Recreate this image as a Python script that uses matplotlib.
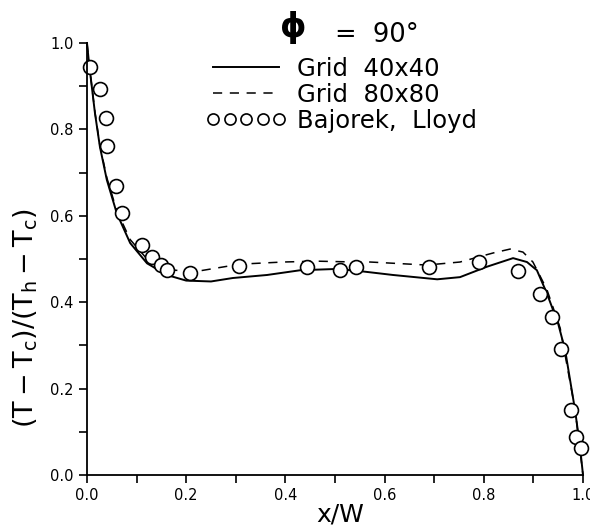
import matplotlib
matplotlib.use('Agg')
import matplotlib.pyplot as plt
from matplotlib.ticker import MultipleLocator, FormatStrFormatter

# Grid 40x40 (solid)
x_40 = [0.0, 0.004, 0.016, 0.026, 0.040, 0.060, 0.087, 0.121, 0.161, 0.200, 0.250,
        0.294, 0.363, 0.430, 0.504, 0.550, 0.617, 0.706, 0.752, 0.806, 0.859, 0.887,
        0.907, 0.927, 0.950, 0.964, 0.984, 0.994, 1.0]
y_40 = [1.0, 0.954, 0.838, 0.760, 0.683, 0.606, 0.537, 0.490, 0.463, 0.450, 0.448,
        0.456, 0.463, 0.474, 0.477, 0.472, 0.463, 0.453, 0.458, 0.482, 0.502, 0.493,
        0.474, 0.421, 0.350, 0.289, 0.150, 0.065, 0.0]

# Grid 80x80 (dashed)
x_80 = [0.0, 0.004, 0.016, 0.026, 0.040, 0.060, 0.087, 0.121, 0.161, 0.214, 0.308,
        0.395, 0.463, 0.544, 0.571, 0.685, 0.752, 0.819, 0.853, 0.879, 0.899, 0.927,
        0.954, 0.984, 1.0]
y_80 = [1.0, 0.954, 0.840, 0.763, 0.688, 0.612, 0.545, 0.500, 0.476, 0.470, 0.488,
        0.493, 0.495, 0.493, 0.493, 0.486, 0.493, 0.514, 0.523, 0.516, 0.493, 0.430,
        0.340, 0.152, 0.0]

# Bajorek, Lloyd (circles)
x_exp = [0.006, 0.026, 0.038, 0.041, 0.058, 0.070, 0.110, 0.132, 0.149, 0.161, 0.208,
         0.307, 0.444, 0.510, 0.542, 0.689, 0.790, 0.869, 0.913, 0.937, 0.955, 0.976,
         0.986, 0.996]
y_exp = [0.944, 0.893, 0.826, 0.761, 0.669, 0.606, 0.532, 0.505, 0.486, 0.474, 0.467,
         0.483, 0.482, 0.474, 0.482, 0.481, 0.493, 0.472, 0.420, 0.365, 0.291, 0.150,
         0.088, 0.062]

fig = plt.figure(figsize=(5.9, 5.29), dpi=100)
ax = fig.add_axes([87 / 590, 1 - 475 / 529, 496 / 590, 432 / 529])

ax.plot(x_40, y_40, color='black', linewidth=1.4, label='Grid  40x40', clip_on=False)
ax.plot(x_80, y_80, color='black', linewidth=1.1, dashes=(6, 5), label='Grid  80x80', clip_on=False)
ax.plot(x_exp, y_exp, linestyle='none', marker='o', markersize=10, markerfacecolor='white',
        markeredgecolor='black', markeredgewidth=1.2, label='Bajorek,  Lloyd', clip_on=False)

ax.set_xlim(0, 1.0)
ax.set_ylim(0, 1.0)
ax.spines['top'].set_visible(False)
ax.spines['right'].set_visible(False)
ax.spines['left'].set_linewidth(1.3)
ax.spines['bottom'].set_linewidth(1.3)
ax.xaxis.set_major_locator(MultipleLocator(0.2))
ax.xaxis.set_minor_locator(MultipleLocator(0.1))
ax.yaxis.set_major_locator(MultipleLocator(0.2))
ax.yaxis.set_minor_locator(MultipleLocator(0.1))
ax.tick_params(which='both', direction='out', length=6, width=1.2, labelsize=10.5)
ax.xaxis.set_major_formatter(FormatStrFormatter('%.1f'))
ax.yaxis.set_major_formatter(FormatStrFormatter('%.1f'))

ax.set_xlabel('x/W', fontsize=18, labelpad=0)
ax.xaxis.set_label_coords((340 - 87) / 496, -(502 - 475) / 432)
ax.set_ylabel(r'$(\mathrm{T-T_c})/(\mathrm{T_h-T_c})$', fontsize=19.5)
ax.yaxis.set_label_coords(-(87 - 40) / 496, (475 - 318) / 432)

leg = ax.legend(loc='upper left', bbox_to_anchor=(206 / 590, 1 - 57 / 529),
                bbox_transform=fig.transFigure, frameon=False, numpoints=5,
                handlelength=3.3, handletextpad=0.45, labelspacing=0.08, fontsize=17.5,
                borderpad=0, borderaxespad=0, markerscale=0.8)

fig.text(293 / 590, 1 - 27 / 529, '\u03d5', fontsize=24, ha='center', va='center', fontweight='bold')
fig.text(335 / 590, 1 - 42 / 529, '=  90\u00b0', fontsize=18.5, ha='left', va='baseline')

fig.savefig('out.png', dpi=100)
